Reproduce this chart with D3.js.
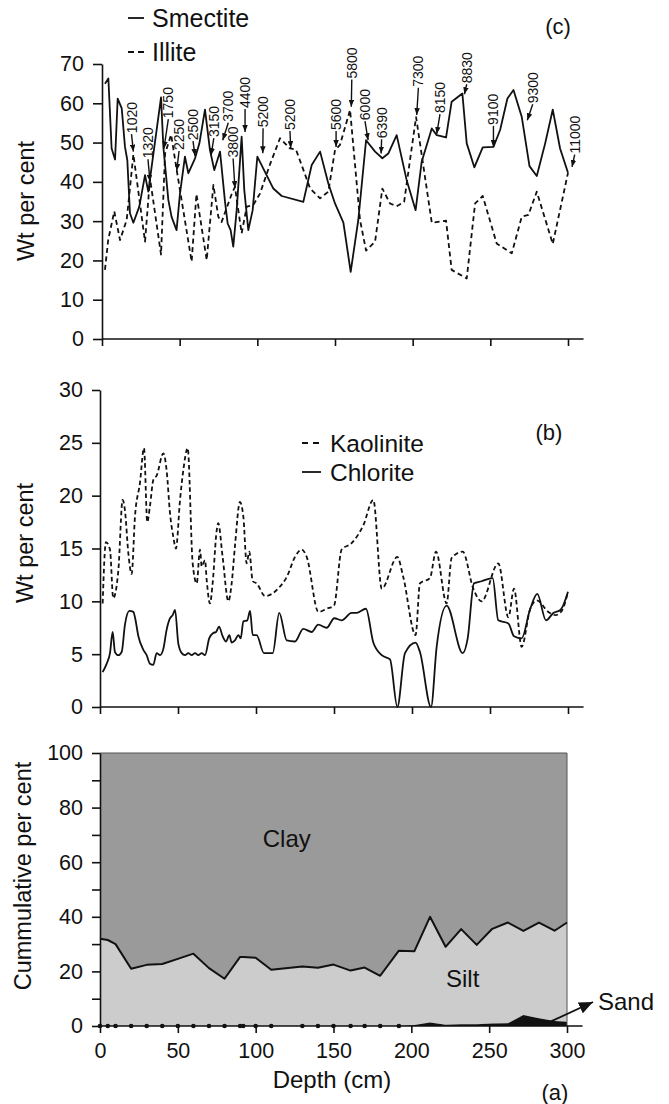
<!DOCTYPE html>
<html>
<head>
<meta charset="utf-8">
<script src="https://cdn.jsdelivr.net/npm/d3@7"></script>
<style>
body { margin: 0; background: #fff; }
svg { font-family: "Liberation Sans", Arial, sans-serif; }
</style>
</head>
<body>
<script>
// (c) smectite / illite, wt per cent vs depth
const smectiteDepth = [1.9,4.1,6.2,8.4,10.1,12.7,14.8,16.3,18,20.2,24,27.7,29.8,38,39.5,42.7,44.8,48,50.2,53.4,55.6,59.9,62.7,66.3,69.5,72.3,76,79.2,80.9,82.8,84.5,86.7,89.9,91.6,94.2,97,100,110.3,115.7,129.6,135,140.4,145.7,150,155.4,160.1,165,170,175.8,180.5,184.3,189.7,196.1,201.9,205.8,212.3,215.5,221.5,225.1,232,234.8,239.7,245.1,252,256.3,261,264.9,270.2,275.2,279.9,285.3,290.2,294.9,300]
const smectiteWt = [65,66.3,48.5,45.7,61.2,58.7,48.9,45.5,32,29.6,33.7,41.7,37.5,61.5,48.9,35.4,31.1,27.7,37,46.4,42.2,46,49.8,58.4,48.1,43,47.7,34.9,29.4,27.7,23.5,32.8,51.5,37.9,27.7,32.8,46.4,38.3,36.4,34.9,44.3,47.7,39.6,34.5,29.6,17.1,30.3,50.6,47.7,46,47.2,51.9,40.5,32.8,45.1,53.6,51.9,51.3,60.4,62.5,49.8,43.7,48.8,48.9,53.2,61.2,63.4,56.6,44,41.5,49.8,58.4,48.5,42.3]
const illiteDepth = [1.9,4,7.9,11.6,15.9,20.2,27.7,30.9,38,40.6,44.5,48.1,57.7,60.8,67.4,71.7,74.9,77,83.5,85.6,89.9,93.2,97.4,101.7,108.2,114.6,121,124.9,134,140.4,145.7,150,153.2,159.7,166.1,170,175.8,180.5,185.4,189.7,194.5,202.2,212.3,221.5,225.1,234.8,240.2,245.1,254.1,263.8,270.2,274.5,279.9,290.2,300]
const illiteWt = [17.6,25.2,32.5,25.2,30.3,47,24.8,40.9,21.5,47.2,52,43,19.7,36.9,20.1,39.2,31.1,29.8,36.9,38.7,26.9,33.7,34.1,37,44.5,51.1,48.5,48.2,38.3,35.8,37.5,48.1,49.4,58.3,30.3,22.5,24.8,38.3,34.5,33.8,34.9,56.5,29.6,30.1,17.6,15.4,34.5,36.4,24.3,21.8,31.1,31.6,37.5,24.2,42.3]

// age labels: [text, text depth, text foot (wt), arrow tip depth, arrow tip wt]
const ageNotes = [
    ["1020", 19, 52.4, 20.2, 47.7],
    ["1320", 29.6, 46, 30.9, 40],
    ["1750", 42.7, 56.2, 39.9, 48.5],
    ["2250", 49.6, 48.1, 48.1, 42.8],
    ["2500", 58.6, 50.6, 59.9, 46.6],
    ["3150", 72, 51.4, 70.2, 46.8],
    ["3700", 81.3, 55.3, 77.7, 50.6],
    ["3800", 84.4, 46.2, 85.6, 38.4],
    ["4400", 92.1, 58.8, 92.1, 52.7],
    ["5200", 103.7, 53.9, 103.5, 47.3],
    ["5200", 121, 53.2, 121.5, 48.6],
    ["5600", 150.7, 53.2, 150.7, 48.9],
    ["5800", 160.8, 66.3, 160.5, 59.1],
    ["6000", 169.3, 55.7, 171.3, 50.6],
    ["6390", 180, 51.1, 179.7, 47.2],
    ["7300", 203.7, 64.2, 202.6, 57],
    ["8150", 217.6, 57.5, 215.5, 52.2],
    ["8830", 234.8, 65.1, 233.3, 62.3],
    ["9100", 252, 54.5, 252, 48.9],
    ["9300", 277.3, 60, 273.8, 55.7],
    ["11000", 304.3, 47.2, 302.6, 43.8]
]

// (b) kaolinite / chlorite
const kaoliniteDepth = [1.7,3.8,6.4,8.5,11.8,14.5,16,18.2,20.3,22.4,25.6,28.2,30.3,32,34.2,36.3,40.6,42.7,44.9,47,48.7,51.3,53.4,56.2,59.4,62,64.1,65.2,67.3,68.4,70.5,72.2,74.8,75.8,78.6,82.3,84.4,86.5,89.7,91.9,94,95.7,97.9,100.4,105.8,115.4,119.7,125,129.3,132.5,140,145.3,150,154.9,161.3,168.8,175.2,180.6,190.6,194.4,202.3,205.1,211.5,215.4,222.2,225.4,232.5,239.3,244.6,255.3,261.8,265.4,270.3,275.6,280,287.4,292,296,300]
const kaoliniteWt = [9.8,15.6,14.9,10.3,13,19.6,18.6,14.5,12.6,18,21.2,24.5,17.5,19,21.5,21.9,24,22.4,18.3,16.1,15,19.6,22.4,24.5,13.6,11.7,14.9,13.3,13.9,12,9.8,11.7,16.7,17.4,14.2,10,11.7,15.2,19.4,18,13.6,14.7,11.9,11.7,10.5,11.4,12.3,14.2,14.9,14.2,9,9.3,9.6,14.9,15.5,17.2,19.6,11.2,14.2,12.3,6.8,11.7,12.2,14.7,9.8,14.1,14.7,11.2,10,13.6,8.5,11.2,5.7,9.2,10.1,9,8.7,9.1,10.9]
const chloriteDepth = [1.7,4.3,6.4,8.1,9.6,11.7,13.9,16,18.8,21.4,22.4,24.6,27.8,29.9,32,34.2,36.3,38.5,40.6,42.7,44.9,46.6,48.1,50.2,52.4,54.5,56.6,58.8,60.9,63,65.2,67.3,70,72.6,74.4,76.3,78.6,80.8,82.9,84.4,86.5,88.7,90.2,91.9,94.4,96.2,97.9,100.4,105.1,110.7,114.9,119.7,125,130.3,135.7,139.9,145.3,150.2,154.9,161.3,164.5,170.5,175.2,180.6,185.9,190.6,195.5,202.3,205.1,212.2,215.8,222.2,232.5,235.7,239.7,244.6,251.7,255.3,261.8,265.4,270.3,275.6,280.3,285.9,290.6,295.3,300]
const chloriteWt = [3.3,4.1,5.1,7.1,5.2,4.9,5.2,7.8,9.1,9,8.5,6.7,5.4,4.9,4.1,4,5.1,4.9,5.5,7.3,8.4,8.7,9.2,6,5.1,4.9,5.1,4.9,5.1,4.9,5.1,4.9,6.5,7,7.1,7.6,6.7,6.2,6.8,6.1,6.3,6.8,6.5,8.1,8.2,9.1,6.8,6.8,5.1,5.1,8.9,6.3,6.2,7.4,7.1,7.8,7.5,8.4,8.2,8.9,8.9,9.3,6.1,4.9,4.5,0,5.1,6.1,5.2,0,5.7,9.6,5.1,6.5,11.7,11.9,12.2,8.2,7.9,6.7,6.5,9.2,10.7,8.2,8.9,9.2,10.9]

// (a) grain size
const textureDepth = [0,5,10,20,30,40,50,60,70,80,90,92,100,110,130,140,150,161,170,180,192,202,212,222,232,242,252,262,272,282,292,300]
const sandPct = [0,0,0,0,0,0,0,0,0,0,0,0,0,0,0,0,0,0,0,0,0,0.4,1.3,0.5,0.6,0.6,0.9,1.0,4.0,2.8,1.8,1.6]
const siltPct = [32,31.5,30,21,22.4,22.7,24.6,26.5,21.2,17.3,25.3,25.3,25,20.6,21.8,21.3,22.5,20.3,21.4,18.4,27.6,27,38.7,28.5,34.9,29.1,34.7,36.9,30.8,35.1,33.1,36.3]

const depthTicks = [0, 50, 100, 150, 200, 250, 300]

const svg = d3.select("body").append("svg").attr("width", 669).attr("height", 1104)
svg.append("rect").attr("width", 669).attr("height", 1104).attr("fill", "#fff")

const defs = svg.append("defs")
function arrowMarker(id, w, h) {
    defs.append("marker").attr("id", id)
        .attr("viewBox", "0 0 10 10").attr("preserveAspectRatio", "none")
        .attr("refX", 10).attr("refY", 5)
        .attr("markerUnits", "userSpaceOnUse")
        .attr("markerWidth", w).attr("markerHeight", h)
        .attr("orient", "auto")
        .append("path").attr("d", "M0,0L10,5L0,10z").attr("fill", "#111")
}
arrowMarker("tip", 7, 5.5)
arrowMarker("bigtip", 14, 12)

const ink = "#111"

function drawAxes(x, y, yTicks, yLabelStep, xLabels, yTickSize) {
    let gx = svg.append("g")
        .attr("transform", `translate(0,${y(0)})`)
        .call(d3.axisBottom(x).tickValues(depthTicks).tickSize(7).tickSizeOuter(0).tickPadding(10)
            .tickFormat(xLabels ? d3.format("d") : ""))
    gx.select(".domain").remove()
    gx.append("line").attr("x1", x(0)).attr("x2", x(310)).attr("stroke", ink).attr("stroke-width", 1.6)

    let gy = svg.append("g")
        .attr("transform", `translate(${x(0)},0)`)
        .call(d3.axisLeft(y).tickValues(yTicks).tickSize(yTickSize).tickSizeOuter(0).tickPadding(9)
            .tickFormat(d => d % yLabelStep === 0 ? d : ""))

    ;[gx, gy].forEach(g => {
        g.attr("font-family", null).attr("font-size", null)
        g.selectAll("line").attr("stroke", ink).attr("stroke-width", 1.6)
        g.selectAll("path").attr("stroke", ink).attr("stroke-width", 1.6)
        g.selectAll("text").attr("fill", ink).style("font-size", "21.5px")
    })
}

function yTitle(text, cx, cy) {
    svg.append("text")
        .attr("transform", `translate(${cx},${cy}) rotate(-90)`)
        .attr("text-anchor", "middle").attr("dominant-baseline", "central")
        .style("font-size", "23.5px").attr("fill", ink)
        .text(text)
}

function plainText(text, px, py, size, anchor) {
    svg.append("text").attr("x", px).attr("y", py)
        .attr("text-anchor", anchor).attr("dominant-baseline", "central")
        .style("font-size", size + "px").attr("fill", ink)
        .text(text)
}

function seriesLine(x, y, depths, values, dash, curve) {
    let line = d3.line().x(d => x(d[0])).y(d => y(d[1])).curve(curve)
    svg.append("path")
        .datum(d3.zip(depths, values))
        .attr("d", line)
        .attr("fill", "none").attr("stroke", ink).attr("stroke-width", 1.8)
        .attr("stroke-linejoin", "round")
        .attr("stroke-dasharray", dash)
}

// ---------- panel (c)
function panelC() {
    const x = d3.scaleLinear().domain([0, 300]).range([102, 568])
    const y = d3.scaleLinear().domain([0, 70]).range([339, 64])

    seriesLine(x, y, illiteDepth, illiteWt, "5,3.5", d3.curveLinear)
    seriesLine(x, y, smectiteDepth, smectiteWt, null, d3.curveLinear)

    ageNotes.forEach(n => {
        let tx = x(n[1]), ty = y(n[2])
        svg.append("text")
            .attr("transform", `translate(${tx},${ty}) rotate(-90)`)
            .attr("dy", "0.36em")
            .style("font-size", "14px").attr("fill", ink)
            .text(n[0])
        svg.append("line")
            .attr("x1", tx).attr("y1", ty + 1)
            .attr("x2", x(n[3])).attr("y2", y(n[4]))
            .attr("stroke", ink).attr("stroke-width", 1.4)
            .attr("marker-end", "url(#tip)")
    })

    drawAxes(x, y, d3.range(0, 71, 10), 10, false, 9)
    yTitle("Wt per cent", 26, 201)

    // legend
    svg.append("line").attr("x1", 128).attr("x2", 144).attr("y1", 18).attr("y2", 18)
        .attr("stroke", ink).attr("stroke-width", 1.8)
    svg.append("line").attr("x1", 128).attr("x2", 144).attr("y1", 52).attr("y2", 52)
        .attr("stroke", ink).attr("stroke-width", 1.8).attr("stroke-dasharray", "6,4")
    plainText("Smectite", 152, 18, 25, "start")
    plainText("Illite", 152, 52, 25, "start")
    plainText("(c)", 558, 26, 22, "middle")
}

// ---------- panel (b)
function panelB() {
    const x = d3.scaleLinear().domain([0, 300]).range([100, 568])
    const y = d3.scaleLinear().domain([0, 30]).range([707, 390])

    seriesLine(x, y, kaoliniteDepth, kaoliniteWt, "4.5,3", d3.curveMonotoneX)
    seriesLine(x, y, chloriteDepth, chloriteWt, null, d3.curveMonotoneX)

    drawAxes(x, y, d3.range(0, 31, 5), 5, false, 8)
    yTitle("Wt per cent", 25, 543)

    svg.append("line").attr("x1", 302).attr("x2", 320).attr("y1", 443).attr("y2", 443)
        .attr("stroke", ink).attr("stroke-width", 1.8).attr("stroke-dasharray", "6,5")
    svg.append("line").attr("x1", 302).attr("x2", 321).attr("y1", 472).attr("y2", 472)
        .attr("stroke", ink).attr("stroke-width", 1.8)
    plainText("Kaolinite", 330, 443, 24.5, "start")
    plainText("Chlorite", 330, 472, 24.5, "start")
    plainText("(b)", 549, 432, 22, "middle")
}

// ---------- panel (a)
function panelA() {
    const x = d3.scaleLinear().domain([0, 300]).range([100, 567])
    const y = d3.scaleLinear().domain([0, 100]).range([1026, 753])

    let rows = textureDepth.map((d, i) => ({
        depth: d, sand: sandPct[i], silt: siltPct[i], clay: 100 - sandPct[i] - siltPct[i]
    }))
    let stack = d3.stack().keys(["sand", "silt", "clay"])(rows)
    let fills = { sand: "#111", silt: "#cccccc", clay: "#9a9a9a" }
    let area = d3.area().x(d => x(d.data.depth)).y0(d => y(d[0])).y1(d => y(d[1]))

    svg.append("g").selectAll("path")
        .data(stack.slice().reverse())
        .enter()
        .append("path")
        .attr("d", area)
        .attr("fill", s => fills[s.key])

    // frame on top and right
    svg.append("path")
        .attr("d", `M${x(0)},${y(100)}H${x(300)}V${y(0)}`)
        .attr("fill", "none").attr("stroke", "#555").attr("stroke-width", 1)

    // silt / clay boundary
    svg.append("path")
        .datum(stack[1])
        .attr("d", d3.line().x(d => x(d.data.depth)).y(d => y(d[1])))
        .attr("fill", "none").attr("stroke", ink).attr("stroke-width", 2)
        .attr("stroke-linejoin", "round")

    drawAxes(x, y, d3.range(0, 101, 10), 20, true, 8)

    // sand samples with no sand
    svg.append("g").selectAll("circle")
        .data(rows.filter(r => r.sand === 0))
        .enter()
        .append("circle")
        .attr("cx", r => x(r.depth))
        .attr("cy", r => y(r.sand))
        .attr("r", 2.3)
        .attr("fill", ink)

    yTitle("Cummulative per cent", 23, 876)
    plainText("Depth (cm)", 332, 1079, 24, "middle")
    plainText("Clay", x(120), y(68.5), 24, "middle")
    plainText("Silt", x(233), y(17.5), 24, "middle")
    plainText("Sand", 598, 1001, 24, "start")
    plainText("(a)", 555, 1092, 22, "middle")

    svg.append("line")
        .attr("x1", x(289)).attr("y1", y(1.5))
        .attr("x2", 593).attr("y2", 1002)
        .attr("stroke", ink).attr("stroke-width", 1.8)
        .attr("marker-end", "url(#bigtip)")
}

panelC()
panelB()
panelA()
</script>
</body>
</html>
